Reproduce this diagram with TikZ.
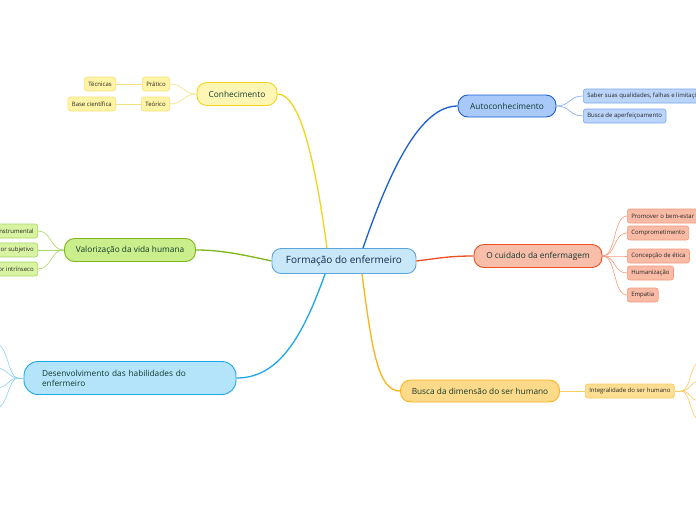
\documentclass[tikz,border=0pt]{standalone}
\usepackage{fontspec}
\setmainfont{Open Sans}
\usetikzlibrary{positioning}

\definecolor{raizfill}{HTML}{C8E8FA}
\definecolor{raizline}{HTML}{5AA6DC}
\definecolor{raiztxt}{HTML}{16264A}
\definecolor{ramotxt}{HTML}{0F3A2C}
\definecolor{amareloline}{HTML}{F2D31E}
\definecolor{amarelofill}{HTML}{FFF6B4}
\definecolor{amarelofolha}{HTML}{FFF3A6}
\definecolor{amareloborda}{HTML}{F6E27C}
\definecolor{verdeline}{HTML}{7DB51A}
\definecolor{verdefill}{HTML}{CBEE8C}
\definecolor{verdefolha}{HTML}{D8F3A2}
\definecolor{verdeborda}{HTML}{A8D862}
\definecolor{azulcline}{HTML}{1EA7E4}
\definecolor{azulcfill}{HTML}{B4E4FA}
\definecolor{azulcborda}{HTML}{8AD2F2}
\definecolor{azulline}{HTML}{1A5ED2}
\definecolor{azulfill}{HTML}{A8C9FA}
\definecolor{azulfolha}{HTML}{BAD4FA}
\definecolor{azulborda}{HTML}{7DA9EC}
\definecolor{vermelholine}{HTML}{EE4F1F}
\definecolor{vermelhofill}{HTML}{F9BEAA}
\definecolor{vermelhofolha}{HTML}{F9BBA5}
\definecolor{vermelhoborda}{HTML}{F39B7C}
\definecolor{laranjaline}{HTML}{FBB41A}
\definecolor{laranjafill}{HTML}{FDDA8A}
\definecolor{laranjafolha}{HTML}{FCDE92}
\definecolor{laranjaborda}{HTML}{F9CA5E}

\tikzset{
  raiz/.style={draw=raizline, fill=raizfill, rounded corners=9pt, line width=0.9pt,
    minimum width=144pt, minimum height=25pt, text=raiztxt,
    font=\fontsize{10}{12}\selectfont},
  ramo/.style={draw=#1line, fill=#1fill, rounded corners=10pt, line width=0.9pt,
    minimum height=23pt, text=ramotxt, font=\fontsize{8.3}{10}\selectfont},
  folha/.style={draw=#1borda, fill=#1folha, rounded corners=2.5pt, line width=0.6pt,
    minimum height=14pt, inner xsep=4pt, text=black!85,
    font=\fontsize{6}{7}\selectfont},
  liga/.style={draw=#1line, line width=1.3pt},
  fio/.style={draw=#1borda, line width=0.6pt},
}

\begin{document}
\begin{tikzpicture}[x=1pt, y=-1pt]
  \clip (0,0) rectangle (696,520);
  \fill[white] (0,0) rectangle (696,520);

  \node[raiz] (raiz) at (344,261) {Formação do enfermeiro};

  \node[ramo=amarelo, minimum width=80pt] (conh) at (237,94) {Conhecimento};
  \node[ramo=verde, minimum width=131pt] (valor) at (130,250) {Valorização da vida humana};
  \node[ramo=azulc, minimum width=212pt, minimum height=33pt, rounded corners=14pt,
    text width=176pt, align=left, inner xsep=18pt] (desenv) at (130,378)
    {Desenvolvimento das habilidades do\\enfermeiro};
  \node[ramo=azul, minimum width=98pt, minimum height=22pt] (auto) at (507,106) {Autoconhecimento};
  \node[ramo=vermelho, minimum width=128pt] (cuid) at (538,256) {O cuidado da enfermagem};
  \node[ramo=laranja, minimum width=159pt, minimum height=22pt] (busca) at (480,391) {Busca da dimensão do ser humano};

  % ligacoes da raiz
  \draw[liga=amarelo] ([xshift=-17pt]raiz.north) .. controls (315,160) and (300,94) .. (conh.east);
  \draw[liga=azul] ([xshift=19pt]raiz.north) .. controls (390,170) and (420,106) .. (auto.west);
  \draw[liga=vermelho] (raiz.east) .. controls (440,258) and (450,256) .. (cuid.west);
  \draw[liga=verde] (raiz.west) .. controls (240,254) and (220,250) .. (valor.east);
  \draw[liga=azulc] ([xshift=-19pt]raiz.south) .. controls (300,345) and (275,378) .. (desenv.east);
  \draw[liga=laranja] ([xshift=18pt]raiz.south) .. controls (372,350) and (378,391) .. (busca.west);

  % conhecimento
  \foreach \y/\a/\b/\na/\nb in {84/Prático/Técnicas/pratico/tecnicas, 104/Teórico/Base científica/teorico/base}
  {
    \node[folha=amarelo, anchor=east] (\na) at (170,\y) {\a};
    \node[folha=amarelo, anchor=east] (\nb) at (116,\y) {\b};
    \draw[fio=amarelo] (conh.west) .. controls +(-14,0) and +(14,0) .. (\na.east);
    \draw[fio=amarelo] (\na.west) -- (\nb.east);
  }

  % valorizacao
  \foreach \y/\t/\n in {231/Valor instrumental/v1, 250/Valor subjetivo/v2, 269/Valor intrínseco/v3}
  {
    \node[folha=verde, anchor=east] (\n) at (38,\y) {\t};
    \draw[fio=verde] (valor.west) .. controls +(-14,0) and +(14,0) .. (\n.east);
  }

  % desenvolvimento (fora da margem)
  \coordinate (dj) at (18,378);
  \draw[fio=azulc] (desenv.west) -- (dj);
  \foreach \y [count=\i] in {344,368,388,408}
  {
    \coordinate (d\i) at (-4,\y);
    \draw[fio=azulc] (dj) .. controls +(-10,0) and +(12,0) .. (d\i);
  }

  % autoconhecimento
  \foreach \y/\t/\n in {96/{Saber suas qualidades, falhas e limitações}/a1, 116/Busca de aperfeiçoamento/a2}
  {
    \node[folha=azul, anchor=west] (\n) at (583,\y) {\t};
    \draw[fio=azul] (auto.east) .. controls +(14,0) and +(-14,0) .. (\n.west);
  }

  % cuidado
  \foreach \y/\t/\n in {216/Promover o bem-estar/c1, 233/Comprometimento/c2, 256/Concepção de ética/c3,
    273/Humanização/c4, 295/Empatia/c5}
  {
    \node[folha=vermelho, anchor=west] (\n) at (627,\y) {\t};
    \draw[fio=vermelho] (cuid.east) .. controls +(14,0) and +(-14,0) .. (\n.west);
  }

  % busca
  \node[folha=laranja, anchor=west] (integ) at (585,391) {Integralidade do ser humano};
  \draw[fio=laranja] (busca.east) -- (integ.west);
  \coordinate (bj) at (681,391);
  \draw[fio=laranja] (integ.east) -- (bj);
  \foreach \y [count=\i] in {362,381,401,420}
  {
    \coordinate (b\i) at (700,\y);
    \draw[fio=laranja] (bj) .. controls +(10,0) and +(-10,0) .. (b\i);
  }
\end{tikzpicture}
\end{document}
